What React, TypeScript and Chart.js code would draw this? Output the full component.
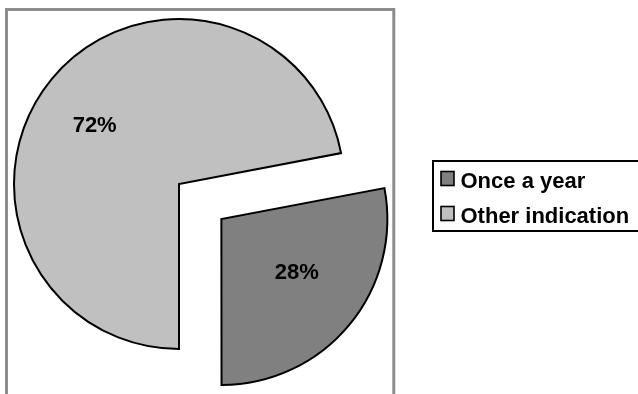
import React, { useEffect, useRef } from "react";
import { Chart, registerables } from "chart.js";

Chart.register(...registerables);

// Survey answers and their shares (percent)
const categories = ["Once a year", "Other indication"];
const shares = [28, 72];
const sliceColors = ["#808080", "#C0C0C0"];

// The first slice starts here (degrees clockwise from 12 o'clock) so that it ends at 6 o'clock
const START_ANGLE = 79.2;
// Pull-out distance of the first slice (Chart.js translates by offset / 4)
const EXPLODE = 220;

const FONT = "'Liberation Sans', Arial, Helvetica, sans-serif";
const LABEL_TILT = (4.7 * Math.PI) / 180;

// Gray plot frame behind the pie
const plotFrame = {
  id: "plotFrame",
  beforeDraw(chart: any) {
    const ctx = chart.ctx;
    ctx.save();
    ctx.fillStyle = "#ffffff";
    ctx.fillRect(0, 0, chart.width, chart.height);
    ctx.strokeStyle = "#8c8c8c";
    ctx.lineWidth = 3;
    ctx.strokeRect(6.5, 9.5, 387.3, 420);
    ctx.restore();
  },
};

// Percentage labels inside each slice
const sliceLabels = {
  id: "sliceLabels",
  afterDatasetsDraw(chart: any) {
    const ctx = chart.ctx;
    const meta = chart.getDatasetMeta(0);
    ctx.save();
    ctx.font = `bold 22px ${FONT}`;
    ctx.fillStyle = "#000000";
    ctx.textAlign = "center";
    ctx.textBaseline = "middle";
    meta.data.forEach((arc: any, i: number) => {
      const mid = (arc.startAngle + arc.endAngle) / 2;
      const shift = (arc.options.offset || 0) / 4;
      const cx = arc.x + Math.cos(mid) * shift;
      const cy = arc.y + Math.sin(mid) * shift;
      const a = mid - LABEL_TILT;
      const r = arc.outerRadius * 0.59;
      ctx.fillText(`${shares[i]}%`, cx + Math.cos(a) * r - 4.5, cy + Math.sin(a) * r - 2);
    });
    ctx.restore();
  },
};

// Boxed legend to the right of the plot
const boxLegend = {
  id: "boxLegend",
  afterDraw(chart: any) {
    const ctx = chart.ctx;
    const labels: string[] = chart.data.labels;
    const colors: string[] = chart.data.datasets[0].backgroundColor;
    ctx.save();
    ctx.strokeStyle = "#000000";
    ctx.lineWidth = 2;
    ctx.strokeRect(433, 161, 260, 70);
    ctx.font = `bold 22px ${FONT}`;
    ctx.textAlign = "left";
    ctx.textBaseline = "alphabetic";
    labels.forEach((label, i) => {
      const top = 171.5 + i * 35;
      ctx.fillStyle = colors[i];
      ctx.fillRect(441, top, 13, 14);
      ctx.lineWidth = 1.6;
      ctx.strokeStyle = "#000000";
      ctx.strokeRect(441, top, 13, 14);
      ctx.fillStyle = "#000000";
      ctx.fillText(label, 460.5, top + 16.5);
    });
    ctx.restore();
  },
};

export default function App() {
  const canvasRef = useRef<HTMLCanvasElement | null>(null);

  useEffect(() => {
    const canvas = canvasRef.current;
    if (!canvas) return;
    const chart = new Chart(canvas, {
      type: "pie",
      data: {
        labels: categories,
        datasets: [
          {
            data: shares,
            backgroundColor: sliceColors,
            borderColor: "#000000",
            borderWidth: 2,
            borderJoinStyle: "miter",
            offset: [EXPLODE, 0],
          } as any,
        ],
      },
      options: {
        responsive: false,
        animation: false,
        events: [],
        rotation: START_ANGLE,
        radius: 165,
        layout: { padding: { left: 0, top: 0, right: 280, bottom: 26 } },
        plugins: {
          legend: { display: false },
          tooltip: { enabled: false },
          title: { display: false },
        },
      } as any,
      plugins: [plotFrame, sliceLabels, boxLegend],
    });
    return () => chart.destroy();
  }, []);

  return (
    <div style={{ position: "absolute", left: 0, top: 0, width: 638, height: 394, overflow: "hidden", background: "#fff" }}>
      <canvas ref={canvasRef} width={638} height={394} style={{ display: "block" }} />
    </div>
  );
}
